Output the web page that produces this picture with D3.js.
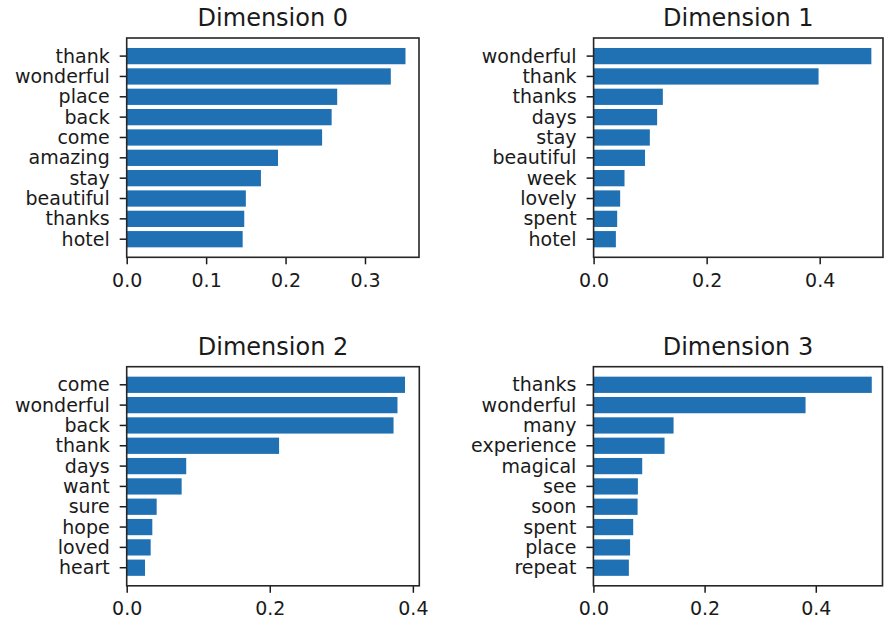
<!DOCTYPE html>
<html>
<head>
<meta charset="utf-8">
<script src="https://cdn.jsdelivr.net/npm/d3@7"></script>
<style>
  html, body { margin: 0; padding: 0; background: #fff; }
  svg { display: block; font-family: "DejaVu Sans", sans-serif; }
</style>
</head>
<body>
<svg id="chart" width="885" height="621"></svg>
<script>
// Top-weighted words per latent dimension
const titles = ["Dimension 0", "Dimension 1", "Dimension 2", "Dimension 3"];

const words0 = ["thank", "wonderful", "place", "back", "come", "amazing", "stay", "beautiful", "thanks", "hotel"];
const values0 = [0.351, 0.3325, 0.265, 0.258, 0.246, 0.1905, 0.169, 0.150, 0.148, 0.146];

const words1 = ["wonderful", "thank", "thanks", "days", "stay", "beautiful", "week", "lovely", "spent", "hotel"];
const values1 = [0.4914, 0.398, 0.1225, 0.1124, 0.0995, 0.091, 0.0547, 0.047, 0.0417, 0.0394];

const words2 = ["come", "wonderful", "back", "thank", "days", "want", "sure", "hope", "loved", "heart"];
const values2 = [0.389, 0.3785, 0.373, 0.213, 0.0832, 0.0768, 0.0419, 0.0358, 0.0335, 0.0256];

const words3 = ["thanks", "wonderful", "many", "experience", "magical", "see", "soon", "spent", "place", "repeat"];
const values3 = [0.5007, 0.3816, 0.1442, 0.128, 0.0878, 0.080, 0.0795, 0.0716, 0.066, 0.0638];

const xMax = [0.368, 0.512, 0.409, 0.520];
const ticks0 = [0, 0.1, 0.2, 0.3];
const ticks1 = [0, 0.2, 0.4];
const ticks2 = [0, 0.2, 0.4];
const ticks3 = [0, 0.2, 0.4];

const panels = [
  { words: words0, values: values0, ticks: ticks0 },
  { words: words1, values: values1, ticks: ticks1 },
  { words: words2, values: values2, ticks: ticks2 },
  { words: words3, values: values3, ticks: ticks3 }
];

// Plot-area boxes for the 2x2 grid
const boxes = [
  { x0: 126.7, x1: 419.0, y0: 38.0,  y1: 257.3 },
  { x0: 593.6, x1: 883.0, y0: 38.0,  y1: 257.3 },
  { x0: 126.7, x1: 419.3, y0: 366.7, y1: 585.8 },
  { x0: 593.4, x1: 882.5, y0: 366.7, y1: 585.8 }
];

const barColor = "#1f71b4";
const inkColor = "#1a1a1a";
const tickFont = 19;
const titleFont = 24;

const svg = d3.select("#chart");

panels.forEach((p, i) => {
  const b = boxes[i];
  const x = d3.scaleLinear().domain([0, xMax[i]]).range([b.x0, b.x1]);
  const y = d3.scaleBand().domain(p.words).range([b.y0, b.y1])
    .paddingInner(0.2).paddingOuter(0.49);

  const g = svg.append("g");

  // bars
  g.selectAll("rect.bar")
    .data(p.words.map((w, k) => ({ w, v: p.values[k] })))
    .join("rect")
    .attr("class", "bar")
    .attr("x", x(0))
    .attr("y", d => y(d.w))
    .attr("width", d => x(d.v) - x(0))
    .attr("height", y.bandwidth())
    .attr("fill", barColor);

  // x axis
  const xAxis = d3.axisBottom(x)
    .tickValues(p.ticks)
    .tickFormat(d3.format(".1f"))
    .tickSizeInner(7).tickSizeOuter(0).tickPadding(9);
  const gx = g.append("g").attr("transform", `translate(0,${b.y1})`).call(xAxis);
  gx.select(".domain").remove();
  gx.selectAll("line").attr("stroke", inkColor).attr("stroke-width", 1.5);
  gx.selectAll("text").attr("fill", inkColor).attr("font-size", tickFont)
    .attr("font-family", "DejaVu Sans");

  // y axis
  const yAxis = d3.axisLeft(y).tickSizeInner(7).tickSizeOuter(0).tickPadding(10);
  const gy = g.append("g").attr("transform", `translate(${b.x0},0)`).call(yAxis);
  gy.select(".domain").remove();
  gy.selectAll("line").attr("stroke", inkColor).attr("stroke-width", 1.5);
  gy.selectAll("text").attr("fill", inkColor).attr("font-size", tickFont)
    .attr("font-family", "DejaVu Sans").attr("dy", "0.34em");

  // frame
  g.append("rect")
    .attr("x", b.x0).attr("y", b.y0)
    .attr("width", b.x1 - b.x0).attr("height", b.y1 - b.y0)
    .attr("fill", "none").attr("stroke", "#262626").attr("stroke-width", 1.6);

  // title
  g.append("text")
    .attr("x", (b.x0 + b.x1) / 2)
    .attr("y", b.y0 - 12)
    .attr("text-anchor", "middle")
    .attr("font-size", titleFont)
    .attr("fill", inkColor)
    .text(titles[i]);
});
</script>
</body>
</html>
